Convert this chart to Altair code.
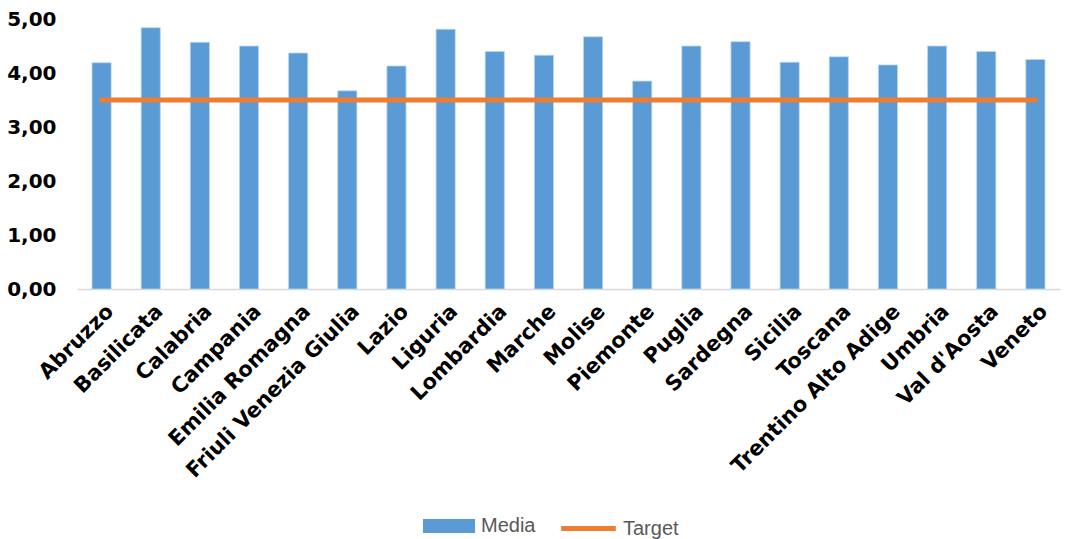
import altair as alt
import pandas as pd

regioni = ["Abruzzo", "Basilicata", "Calabria", "Campania", "Emilia Romagna",
           "Friuli Venezia Giulia", "Lazio", "Liguria", "Lombardia", "Marche",
           "Molise", "Piemonte", "Puglia", "Sardegna", "Sicilia", "Toscana",
           "Trentino Alto Adige", "Umbria", "Val d'Aosta", "Veneto"]
media = [4.19, 4.84, 4.57, 4.50, 4.37, 3.67, 4.13, 4.81, 4.40, 4.33,
         4.67, 3.85, 4.50, 4.58, 4.20, 4.30, 4.15, 4.50, 4.40, 4.25]
target = [3.5] * len(regioni)
y_ticks = [0, 1, 2, 3, 4, 5]

BLUE = "#5B9BD5"
ORANGE = "#ED7D31"

df_bar = pd.DataFrame({"Regione": regioni, "Valore": media, "Serie": "Media"})
df_line = pd.DataFrame({"Regione": regioni, "Valore": target, "Serie": "Target"})

legend_common = dict(
    title=None,
    orient="none",
    direction="horizontal",
    labelFont="Liberation Sans",
    labelFontSize=20,
    labelColor="#595959",
    labelOffset=6,
    symbolSize=2704,
)

fill = alt.Fill(
    "Serie:N",
    scale=alt.Scale(domain=["Media"], range=[BLUE]),
    legend=alt.Legend(legendX=346, legendY=481,
                      symbolType="M-1,-0.27H1V0.27H-1Z",
                      symbolStrokeWidth=0, symbolOpacity=1,
                      **legend_common),
)
stroke = alt.Stroke(
    "Serie:N",
    scale=alt.Scale(domain=["Target"], range=[ORANGE]),
    legend=alt.Legend(legendX=483, legendY=481,
                      symbolType="M-1.05,0H1.05",
                      symbolStrokeWidth=5, symbolOpacity=1,
                      **legend_common),
)

x = alt.X(
    "Regione:N",
    sort=regioni,
    title=None,
    scale=alt.Scale(paddingInner=0.61, paddingOuter=0.305),
    axis=alt.Axis(
        labelAngle=-45,
        labelAlign="right",
        labelBaseline="middle",
        labelFont="DejaVu Sans",
        labelFontWeight="bold",
        labelFontSize=21,
        labelColor="#000000",
        labelPadding=19,
        labelOffset=9,
        labelLimit=0,
        labelOverlap=False,
        ticks=False,
        domainColor="#D9D9D9",
        domainWidth=1.5,
        grid=False,
    ),
)

y = alt.Y(
    "Valore:Q",
    title=None,
    scale=alt.Scale(domain=[0, 5], nice=False),
    axis=alt.Axis(
        values=y_ticks,
        labelExpr="replace(format(datum.value, '.2f'), '.', ',')",
        labelFont="DejaVu Sans",
        labelFontWeight="bold",
        labelFontSize=20,
        labelColor="#000000",
        labelPadding=21,
        ticks=False,
        domain=False,
        grid=False,
    ),
)

bars = alt.Chart(df_bar).mark_bar(stroke="#BDD7EE", strokeWidth=0.8).encode(
    x=x, y=y, fill=fill
)
line = alt.Chart(df_line).mark_line(strokeWidth=5, strokeCap="round").encode(
    x=x, y=y, stroke=stroke
)

chart = alt.layer(bars, line).properties(
    width=983,
    height=270,
    background="white",
    autosize=alt.AutoSizeParams(type="none"),
    padding={"left": 77, "top": 19, "right": 7, "bottom": 250},
).configure_view(strokeWidth=0, stroke=None)

chart.save("out.html", embed_options={"renderer": "svg", "actions": False})
